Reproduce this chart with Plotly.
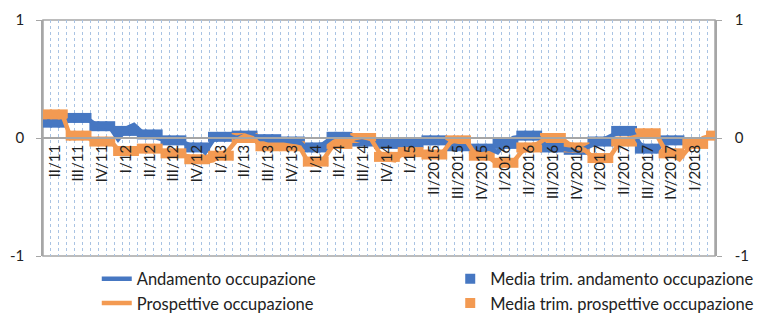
import plotly.graph_objects as go

# quarter labels (one per quarter, placed at the middle month)
quarter_labels = ["II/11", "III/11", "IV/11", "I/12", "II/12", "III/12", "IV/12",
                  "I/13", "II/13", "III/13", "IV/13", "I/14", "II/14", "III/14", "IV/14",
                  "I/15", "II/2015", "III/2015", "IV/2015", "I/2016", "II/2016", "III/2016",
                  "IV/2016", "I/2017", "II/2017", "III/2017", "IV/2017", "I/2018"]

# monthly series
andamento = [0.14, 0.13, 0.12, 0.16, 0.19, 0.17, 0.12, 0.10, 0.09,
             -0.01, 0.08, 0.11, 0.05, 0.04, 0.00, -0.02, -0.02, -0.03,
             -0.06, -0.07, -0.12, -0.02, 0.03, 0.02, 0.00, 0.02, 0.03,
             0.00, -0.02, -0.02, -0.02, -0.03, -0.04, -0.10, -0.08, -0.05,
             0.00, 0.03, 0.01, -0.01, -0.03, -0.04, -0.05, -0.05, -0.05,
             -0.04, -0.04, -0.03, -0.02, -0.01, -0.02, -0.06, -0.07, -0.07,
             -0.08, -0.10, -0.09, -0.12, -0.04, 0.00, 0.01, 0.02, 0.02,
             -0.06, -0.09, -0.09, -0.10, -0.10, -0.09, -0.06, -0.02, 0.00,
             0.04, 0.07, 0.06, -0.05, -0.10, -0.11, -0.03, -0.02, -0.01]

prospettive = [0.22, 0.20, 0.19, 0.00, 0.03, 0.02, -0.04, -0.03, -0.02,
               -0.10, -0.12, -0.11, -0.10, -0.08, -0.10, -0.12, -0.13, -0.14,
               -0.16, -0.18, -0.20, -0.19, -0.15, -0.10, -0.02, 0.02, 0.00,
               -0.06, -0.07, -0.08, -0.07, -0.07, -0.08, -0.20, -0.22, -0.18,
               -0.08, -0.04, -0.03, 0.00, 0.01, -0.01, -0.12, -0.18, -0.19,
               -0.13, -0.11, -0.12, -0.14, -0.15, -0.13, -0.04, 0.00, -0.02,
               -0.12, -0.15, -0.17, -0.22, -0.22, -0.20, -0.12, -0.07, -0.05,
               -0.01, 0.01, 0.00, -0.05, -0.08, -0.10, -0.16, -0.17, -0.18,
               -0.08, -0.02, 0.00, 0.02, 0.05, 0.04, -0.08, -0.14, -0.18,
               -0.10, -0.05, 0.00, 0.02]

# quarterly averages (drawn at each month of the quarter)
media_andamento = [0.13, 0.17, 0.10, 0.06, 0.03, -0.02, -0.08, 0.01, 0.02,
                   -0.01, -0.03, -0.08, 0.01, -0.03, -0.05, -0.04, -0.02, -0.07,
                   -0.09, -0.05, 0.02, -0.08, -0.10, -0.03, 0.06, -0.09, -0.02]
media_prospettive = [0.20, 0.02, -0.03, -0.11, -0.09, -0.13, -0.18, -0.15, 0.00,
                     -0.07, -0.07, -0.20, -0.05, 0.00, -0.16, -0.12, -0.14, -0.02,
                     -0.15, -0.21, -0.08, 0.00, -0.08, -0.17, -0.03, 0.04, -0.13,
                     -0.05, 0.02]

BLUE = "#4677C2"
ORANGE = "#F39A52"
FONT = "Lato"
TXT = "#222222"
AX = "#A6A6A6"


def expand(q, n):
    xs, ys = [], []
    for k, v in enumerate(q):
        for j in range(3):
            i = 3 * k + j
            if i < n:
                xs.append(i)
                ys.append(v)
    return xs, ys


n_months = len(prospettive)
xa, ya = expand(media_andamento, len(andamento))
xp, yp = expand(media_prospettive, n_months)

fig = go.Figure()
fig.add_trace(go.Scatter(x=xa, y=ya, mode="markers", name="Media trim. andamento occupazione",
                         marker=dict(symbol="square", size=10, color=BLUE), legend="legend2"))
fig.add_trace(go.Scatter(x=xp, y=yp, mode="markers", name="Media trim. prospettive occupazione",
                         marker=dict(symbol="square", size=10, color=ORANGE), legend="legend2"))
fig.add_trace(go.Scatter(x=list(range(len(andamento))), y=andamento, mode="lines",
                         name="Andamento occupazione", line=dict(color=BLUE, width=4.5),
                         legend="legend"))
fig.add_trace(go.Scatter(x=list(range(n_months)), y=prospettive, mode="lines",
                         name="Prospettive occupazione", line=dict(color=ORANGE, width=4.5),
                         legend="legend"))
fig.add_trace(go.Scatter(x=[None], y=[None], yaxis="y2", showlegend=False, hoverinfo="skip"))

tickvals = [1 + 3 * k for k in range(len(quarter_labels))]

# the page body adds an 8px offset; the figure size and margins compensate for it
fig.update_layout(
    width=755, height=307,
    margin=dict(l=35, r=48, t=12, b=59, autoexpand=False),
    paper_bgcolor="white", plot_bgcolor="white",
    font=dict(family=FONT, size=15, color=TXT),
    xaxis=dict(range=[-0.5, n_months - 0.5], anchor="free", position=0.5,
               tickmode="array", tickvals=tickvals, ticktext=quarter_labels,
               tickangle=-90, tickfont=dict(size=15, color=TXT),
               showgrid=False, zeroline=False,
               showline=True, linecolor=AX, linewidth=1.5, ticks="",
               minor=dict(tickmode="linear", tick0=-0.5, dtick=1, showgrid=True,
                          gridcolor="#A9C3E3", griddash="dot", gridwidth=1, ticks=""),
               automargin=False),
    yaxis=dict(range=[-1, 1], tickvals=[-1, 0, 1], ticktext=["-1", "0", "1"],
               showgrid=False, zeroline=False, ticks="outside", ticklen=5,
               tickcolor=AX, tickfont=dict(size=15, color=TXT), ticklabelstandoff=9,
               showline=True, linecolor=AX, linewidth=1.5, automargin=False),
    yaxis2=dict(range=[-1, 1], tickvals=[-1, 0, 1], ticktext=["-1", "0", "1"],
                overlaying="y", side="right", showgrid=False, zeroline=False,
                ticks="outside", ticklen=5, tickcolor=AX, ticklabelstandoff=10,
                tickfont=dict(size=15, color=TXT),
                showline=True, linecolor=AX, linewidth=1.5, automargin=False),
    legend=dict(x=0.08, y=-0.023, xanchor="left", yanchor="top", orientation="v",
                font=dict(size=16.5, family=FONT, color=TXT), tracegroupgap=0,
                bgcolor="rgba(0,0,0,0)"),
    legend2=dict(x=0.606, y=-0.023, xanchor="left", yanchor="top", orientation="v",
                 font=dict(size=16.5, family=FONT, color=TXT), tracegroupgap=0,
                 bgcolor="rgba(0,0,0,0)"),
    shapes=[dict(type="rect", xref="x domain", yref="y domain", x0=0, x1=1, y0=0, y1=1,
                 line=dict(color=AX, width=1.5), layer="below")],
    showlegend=True,
)

fig.write_html("out.html")
